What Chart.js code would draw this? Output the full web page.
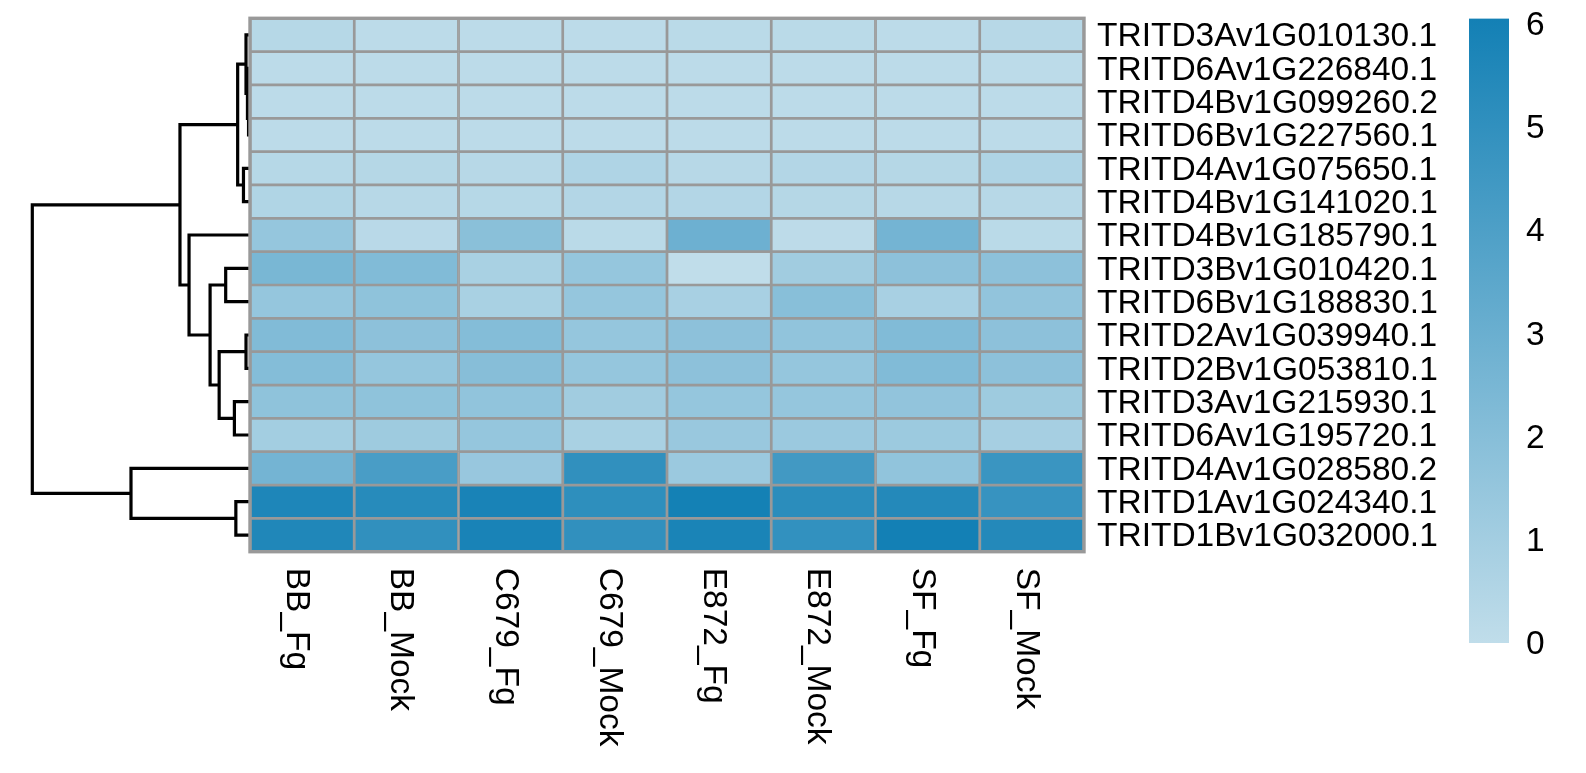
<!DOCTYPE html>
<html>
<head>
<meta charset="utf-8">
<script src="https://cdn.jsdelivr.net/npm/chart.js@4.4.1/dist/chart.umd.min.js"></script>
<style>
  html, body { margin: 0; padding: 0; background: #fff; }
  #wrap { position: relative; width: 1586px; height: 773px; }
  #wrap canvas { position: absolute; left: 0; top: 0; }
</style>
</head>
<body>
<div id="wrap">
  <canvas id="dendro" width="1586" height="773"></canvas>
  <canvas id="heat" width="1586" height="773"></canvas>
  <canvas id="legend" width="1586" height="773"></canvas>
</div>
<script>
const genes = [
  "TRITD3Av1G010130.1", "TRITD6Av1G226840.1", "TRITD4Bv1G099260.2", "TRITD6Bv1G227560.1",
  "TRITD4Av1G075650.1", "TRITD4Bv1G141020.1", "TRITD4Bv1G185790.1", "TRITD3Bv1G010420.1",
  "TRITD6Bv1G188830.1", "TRITD2Av1G039940.1", "TRITD2Bv1G053810.1", "TRITD3Av1G215930.1",
  "TRITD6Av1G195720.1", "TRITD4Av1G028580.2", "TRITD1Av1G024340.1", "TRITD1Bv1G032000.1"
];
const samples = ["BB_Fg", "BB_Mock", "C679_Fg", "C679_Mock", "E872_Fg", "E872_Mock", "SF_Fg", "SF_Mock"];

// one array per sample, rows in the order of genes
const BB_Fg     = [0.35, 0.15, 0.15, 0.15, 0.35, 0.55, 1.5, 2.5, 1.5, 2.2, 2.1, 1.7, 1.0, 2.65, 5.65, 5.6];
const BB_Mock   = [0.15, 0.15, 0.15, 0.15, 0.4, 0.3, 0.25, 2.2, 1.7, 1.8, 1.5, 1.7, 1.2, 4.15, 5.35, 5.0];
const C679_Fg   = [0.15, 0.15, 0.15, 0.15, 0.3, 0.35, 1.9, 0.8, 0.8, 2.1, 2.0, 1.65, 1.5, 1.4, 5.85, 5.85];
const C679_Mock = [0.15, 0.15, 0.15, 0.15, 0.6, 0.45, 0.2, 1.5, 1.5, 1.5, 1.5, 1.1, 0.8, 5.0, 5.1, 5.0];
const E872_Fg   = [0.2, 0.15, 0.15, 0.15, 0.3, 0.45, 2.9, 0.0, 0.85, 1.8, 1.8, 1.5, 1.35, 1.3, 6.0, 5.8];
const E872_Mock = [0.2, 0.15, 0.15, 0.15, 0.45, 0.4, 0.1, 1.1, 1.95, 1.65, 1.5, 1.5, 1.3, 4.4, 5.2, 4.95];
const SF_Fg     = [0.15, 0.15, 0.15, 0.15, 0.4, 0.3, 2.65, 1.8, 0.85, 2.2, 2.2, 1.6, 1.25, 1.65, 5.45, 6.05];
const SF_Mock   = [0.3, 0.15, 0.15, 0.15, 0.6, 0.3, 0.2, 1.8, 1.6, 1.8, 1.8, 1.2, 0.9, 4.7, 4.8, 5.45];
const sampleValues = [BB_Fg, BB_Mock, C679_Fg, C679_Mock, E872_Fg, E872_Mock, SF_Fg, SF_Mock];

const legendTicks = [0, 1, 2, 3, 4, 5, 6];

// row dendrogram, hclust style: negative = leaf (row number), positive = earlier merge
const mergeLeft   = [-3, -2, -1, -5, 3, -10, -12, 6, -8, 9, -7, 5, -15, -14, 12];
const mergeRight  = [-4, 1, 2, -6, 4, -11, -13, 7, -9, 8, 10, 11, -16, 13, 14];
const mergeHeight = [0.04, 0.07, 0.11, 0.18, 0.34, 0.11, 0.43, 0.85, 0.67, 1.10, 1.68, 1.93, 0.39, 3.28, 6.0];

const FONT = "Liberation Sans, Arial, sans-serif";
const FS = 33.5;
const lowCol = [192, 221, 234];
const highCol = [19, 128, 181];
const legendMin = 0;
const legendMax = Math.max(...sampleValues.flat());

function colorFor(v) {
  const t = Math.min(1, Math.max(0, (v - legendMin) / (legendMax - legendMin)));
  const c = lowCol.map((lo, i) => Math.round(lo + (highCol[i] - lo) * t));
  return `rgb(${c[0]},${c[1]},${c[2]})`;
}

// plot area of the heatmap
const areaTop = 18.3, areaBottom = 551.7, areaLeft = 250, areaRight = 1084;

// no extra room for the first/last tick label
function noLabelPadding(scale) {
  scale.paddingTop = 0;
  scale.paddingBottom = 0;
}

// ---------- dendrogram ----------
const nodeY = [], nodeH = [];
function node(ref) {
  if (ref < 0) return { y: -ref - 0.5, h: 0 };
  return { y: nodeY[ref - 1], h: nodeH[ref - 1] };
}
const dendroSets = mergeHeight.map((h, i) => {
  const a = node(mergeLeft[i]);
  const b = node(mergeRight[i]);
  nodeY.push((a.y + b.y) / 2);
  nodeH.push(h);
  return {
    data: [{ x: a.h, y: a.y }, { x: h, y: a.y }, { x: h, y: b.y }, { x: b.h, y: b.y }],
    showLine: true,
    borderColor: "#000",
    borderWidth: 3.2,
    pointRadius: 0,
    borderJoinStyle: "miter",
    clip: false,
  };
});

new Chart(document.getElementById("dendro"), {
  type: "scatter",
  data: { datasets: dendroSets },
  options: {
    responsive: false,
    animation: false,
    layout: { padding: { left: 32.3, right: 1586 - areaLeft, top: areaTop, bottom: 773 - areaBottom } },
    plugins: { legend: { display: false }, tooltip: { enabled: false } },
    scales: {
      x: { type: "linear", display: false, min: 0, max: Math.max(...mergeHeight), reverse: true },
      y: { type: "linear", display: false, min: 0, max: genes.length, reverse: true },
    },
  },
});

// ---------- heatmap ----------
const heatExtras = {
  id: "heatExtras",
  afterDatasetsDraw(chart) {
    const { ctx, chartArea } = chart;
    ctx.save();
    ctx.strokeStyle = "#999999";
    ctx.lineWidth = 3.4;
    ctx.strokeRect(chartArea.left, chartArea.top, chartArea.right - chartArea.left, chartArea.bottom - chartArea.top);
    ctx.restore();
  },
  afterDraw(chart) {
    const { ctx, chartArea } = chart;
    const xs = chart.scales.x;
    ctx.save();
    ctx.font = `${FS}px ${FONT}`;
    ctx.fillStyle = "#000";
    ctx.textAlign = "left";
    ctx.textBaseline = "alphabetic";
    samples.forEach((s, c) => {
      const cx = xs.getPixelForValue(c + 0.5);
      ctx.save();
      ctx.translate(cx - 15, chartArea.bottom + 16);
      ctx.rotate(Math.PI / 2);
      ctx.fillText(s, 0, 0);
      ctx.restore();
    });
    ctx.restore();
  },
};

new Chart(document.getElementById("heat"), {
  type: "bar",
  data: {
    labels: genes,
    datasets: samples.map((s, c) => ({
      label: s,
      data: genes.map(() => 1),
      backgroundColor: sampleValues[c].map(colorFor),
      borderColor: "#999999",
      borderWidth: 1.7,
      borderSkipped: false,
      barPercentage: 1,
      categoryPercentage: 1,
    })),
  },
  options: {
    indexAxis: "y",
    responsive: false,
    animation: false,
    layout: { padding: { left: areaLeft, right: 0, top: areaTop, bottom: 773 - areaBottom } },
    plugins: { legend: { display: false }, tooltip: { enabled: false } },
    scales: {
      x: { type: "linear", stacked: true, display: false, min: 0, max: samples.length },
      y: {
        stacked: true,
        position: "right",
        grid: { display: false, drawTicks: false },
        border: { display: false },
        ticks: { color: "#000", padding: 13, labelOffset: 2, autoSkip: false, font: { family: FONT, size: FS } },
        afterFit(scale) {
          scale.width = 1586 - areaRight;
          noLabelPadding(scale);
        },
      },
    },
  },
  plugins: [heatExtras],
});

// ---------- colour key ----------
new Chart(document.getElementById("legend"), {
  type: "bar",
  data: {
    labels: [""],
    datasets: [{
      data: [legendMax],
      borderWidth: 0,
      barPercentage: 1,
      categoryPercentage: 1,
      backgroundColor(context) {
        const { ctx, chartArea } = context.chart;
        if (!chartArea) return colorFor(legendMax / 2);
        const g = ctx.createLinearGradient(0, chartArea.bottom, 0, chartArea.top);
        g.addColorStop(0, colorFor(legendMin));
        g.addColorStop(1, colorFor(legendMax));
        return g;
      },
    }],
  },
  options: {
    responsive: false,
    animation: false,
    layout: { padding: { left: 1469, right: 0, top: 18.5, bottom: 773 - 643 } },
    plugins: { legend: { display: false }, tooltip: { enabled: false } },
    scales: {
      x: { display: false },
      y: {
        position: "right",
        min: legendMin,
        max: legendMax,
        grid: { display: false, drawTicks: false },
        border: { display: false },
        ticks: { color: "#000", padding: 17, labelOffset: 2, font: { family: FONT, size: FS } },
        afterBuildTicks(scale) { scale.ticks = legendTicks.map((v) => ({ value: v })); },
        afterFit(scale) {
          scale.width = 1586 - 1509;
          noLabelPadding(scale);
        },
      },
    },
  },
});
</script>
</body>
</html>
